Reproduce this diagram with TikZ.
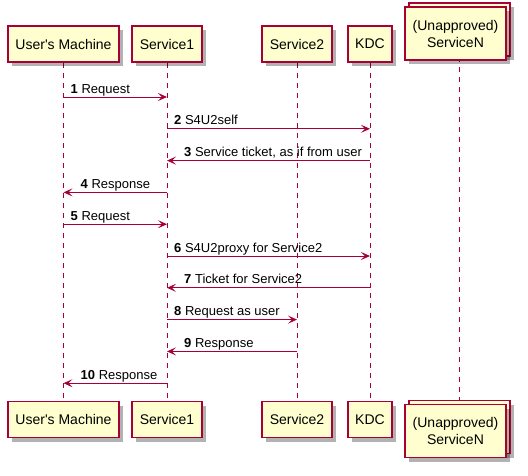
\documentclass[tikz,border=0pt]{standalone}
\usepackage{fontspec}
\setmainfont{Liberation Sans}
\usetikzlibrary{arrows.meta,shadows,backgrounds,positioning}
\definecolor{umlred}{HTML}{A80036}
\definecolor{umlfill}{HTML}{FEFECE}
\tikzset{actor/.style={
            draw=umlred,
            fill=umlfill,
            line width=1.5pt,
            inner sep=0pt,
            minimum height=36pt,
            align=center,
            font=\fontsize{14}{17}\selectfont,
            drop shadow={shadow xshift=4pt,shadow yshift=-4pt,opacity=0.3,fill=black}
        },
        lifeline/.style={
            draw=umlred,
            line width=1pt,
            dash pattern=on 5pt off 5pt
        },
        msg/.style={
            draw=umlred,
            line width=1pt,
            -{Stealth[length=9pt,width=8pt,inset=4pt]}
        },
        msglabel/.style={
            anchor=base west,
            inner sep=0pt,
            font=\fontsize{13}{15}\selectfont
        }
    }

\begin{document}
\begin{tikzpicture}[x=1pt,y=-1pt]
        \useasboundingbox (0,0) rectangle (528,475);

        % participants, top row
        \node[actor,minimum width=111pt] (user) at (63.5,44) {User\textquotesingle s Machine};
        \node[actor,minimum width=70pt] (svcone) at (167,44) {Service1};
        \node[actor,minimum width=70pt] (svctwo) at (297,44) {Service2};
        \node[actor,minimum width=44pt] (kdc) at (370,44) {KDC};
        \node[actor,minimum width=101pt,minimum height=53pt] (svcnback) at (459.5,29.5) {};
        \node[actor,minimum width=101pt,minimum height=53pt] (svcn) at (455.5,33.5) {(Unapproved)\\ServiceN};

        % participants, bottom row
        \node[actor,minimum width=111pt] (user-b) at (63.5,419.5) {User\textquotesingle s Machine};
        \node[actor,minimum width=70pt] (svcone-b) at (167,419.5) {Service1};
        \node[actor,minimum width=70pt] (svctwo-b) at (297,419.5) {Service2};
        \node[actor,minimum width=44pt] (kdc-b) at (370,419.5) {KDC};
        \node[actor,minimum width=101pt,minimum height=53pt] (svcnback-b) at (459.5,427) {};
        \node[actor,minimum width=101pt,minimum height=53pt] (svcn-b) at (455.5,431) {(Unapproved)\\ServiceN};

        \begin{scope}[on background layer]
            \foreach \p in {user,svcone,svctwo,kdc,svcnback}
                \draw[lifeline] (\p.south) -- (\p-b.north);
        \end{scope}

        % messages
        \foreach \n/\a/\b/\l/\dx/\txt [evaluate=\n as \y using 97+31.8*(\n-1)] in {
                1/user/svcone/user/7/Request,
                2/svcone/kdc/svcone/7/S4U2self,
                3/kdc/svcone/svcone/17/{Service ticket, as if from user},
                4/svcone/user/user/17/Response,
                5/user/svcone/user/7/Request,
                6/svcone/kdc/svcone/7/S4U2proxy for Service2,
                7/kdc/svcone/svcone/17/Ticket for Service2,
                8/svcone/svctwo/svcone/7/Request as user,
                9/svctwo/svcone/svcone/17/Response,
                10/svcone/user/user/17/Response}
        {
            \coordinate (m\n) at (0,\y);
            \draw[msg] (\a |- m\n) -- (\b |- m\n);
            \path (\l |- m\n) ++(\dx,-4) node[msglabel] (l\n) {\textbf{\n} \txt};
        }

    \end{tikzpicture}
\end{document}
